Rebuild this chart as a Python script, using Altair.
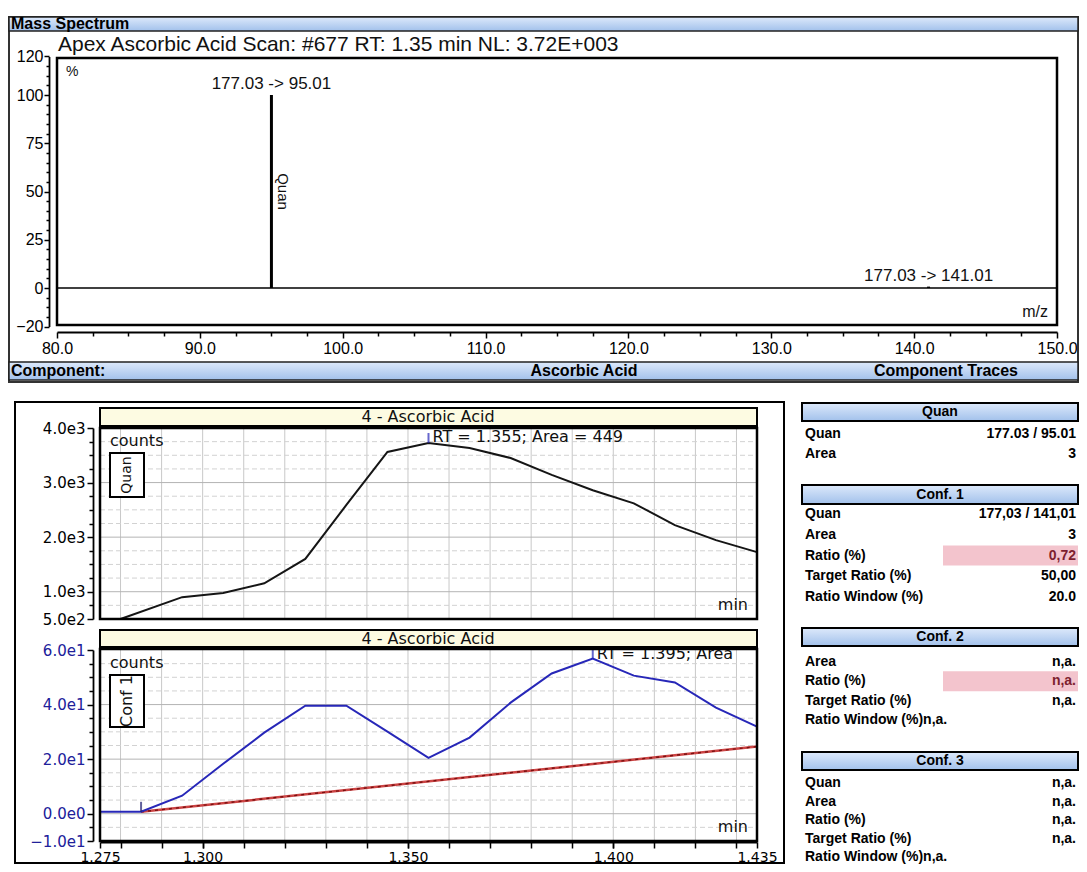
import altair as alt
import pandas as pd

# ------------------------------------------------------------------ data
# mass spectrum (m/z, relative intensity %)
ion_mz = [95.01, 141.01]
ion_intensity = [100.0, 0.72]
ion_labels = ["177.03 -> 95.01", "177.03 -> 141.01"]
ion_tags = ["Quan", ""]
spec_title = "Apex Ascorbic Acid Scan: #677  RT: 1.35 min NL: 3.72E+003"
spec_x_ticks = [80, 90, 100, 110, 120, 130, 140, 150]
spec_x_minor = [80 + 2.5 * i for i in range(29) if i % 4 != 0]
spec_y_ticks = [-20, 0, 25, 50, 75, 100, 120]
spec_y_minor = [v for v in range(-20, 121, 5) if v not in spec_y_ticks]

# component traces
quan_time = [1.280, 1.295, 1.305, 1.315, 1.325, 1.335, 1.345, 1.355,
             1.365, 1.375, 1.385, 1.395, 1.405, 1.415, 1.425, 1.435]
quan_counts = [500, 900, 975, 1155, 1600, 2590, 3560, 3725,
               3635, 3450, 3140, 2860, 2620, 2220, 1945, 1725]
conf1_time = [1.275, 1.285, 1.295, 1.305, 1.315, 1.325, 1.335, 1.345, 1.355,
              1.365, 1.375, 1.385, 1.395, 1.405, 1.415, 1.425, 1.435]
conf1_counts = [0.7, 0.7, 6.6, 18.3, 29.7, 39.6, 39.6, 30.1, 20.5,
                27.9, 40.7, 51.4, 56.9, 50.6, 48.1, 38.9, 31.9]
base_time = [1.285, 1.435]
base_counts = [0.7, 24.6]
peak_time = [1.355, 1.395]
peak_counts = [3725, 56.9]
peak_labels = ["RT = 1.355; Area = 449", "RT = 1.395; Area = 3"]
start_time = [1.285]
start_counts = [0.7]
trace_title = "4 - Ascorbic Acid"
trace_x_labels = [1.275, 1.300, 1.350, 1.400, 1.435]
trace_x_ticks = [round(1.28 + 0.01 * i, 2) for i in range(16)]
quan_y_ticks = [500, 1000, 2000, 3000, 4000]
quan_y_minor = [v for v in range(500, 4001, 250) if v not in quan_y_ticks]
quan_grid_major = [1000, 2000, 3000]
conf1_y_ticks = [-10, 0, 20, 40, 60]
conf1_y_minor = [v for v in range(-10, 61, 5) if v not in conf1_y_ticks]
conf1_grid_major = [0, 20, 40]

# result tables
table_titles = ["Quan", "Conf. 1", "Conf. 2", "Conf. 3"]
table_labels = [
    ["Quan", "Area"],
    ["Quan", "Area", "Ratio (%)", "Target Ratio (%)", "Ratio Window (%)"],
    ["Area", "Ratio (%)", "Target Ratio (%)", "Ratio Window (%)n,a."],
    ["Quan", "Area", "Ratio (%)", "Target Ratio (%)", "Ratio Window (%)n,a."],
]
table_values = [
    ["177.03 / 95.01", "3"],
    ["177,03 / 141,01", "3", "0,72", "50,00", "20.0"],
    ["n,a.", "n,a.", "n,a.", ""],
    ["n,a.", "n,a.", "n,a.", "n,a.", ""],
]
table_flag = [
    [False, False],
    [False, False, True, False, False],
    [False, True, False, False],
    [False, False, False, False, False],
]

# ------------------------------------------------------------------ helpers
W, H = 1071, 856
RIGHT = 1078
SANS = "Liberation Sans, Arial, sans-serif"
DV = "DejaVu Sans, Verdana, sans-serif"
ONE = pd.DataFrame({"k": [0]})


def P(v):
    return v - 8


def box(x1, y1, x2, y2, **kw):
    return alt.Chart(ONE).mark_rect(**kw).encode(
        x=alt.value(P(x1)), x2=alt.value(P(x2)),
        y=alt.value(P(y1)), y2=alt.value(P(y2)))


def frame(x1, y1, x2, y2, width=2, color="black"):
    return box(x1, y1, x2, y2, fill="white", fillOpacity=0,
               stroke=color, strokeWidth=width)


def label(s, x, y, **kw):
    kw.setdefault("baseline", "middle")
    return alt.Chart(ONE).mark_text(**kw).encode(
        x=alt.value(P(x)), y=alt.value(P(y)), text=alt.value(s))


def blue_grad():
    return alt.Gradient(
        gradient="linear",
        stops=[alt.GradientStop(color="#dde9fb", offset=0),
               alt.GradientStop(color="#a2c1eb", offset=1)],
        x1=0, x2=0, y1=0, y2=1)


def axis(orient, offset, values, size=6, labels=True, domain=True,
         color="black", fmt=None, expr=None, font=SANS, fsize=14, pad=2):
    kw = dict(orient=orient, offset=offset, values=values, tickSize=size,
              tickWidth=1.5, tickColor="black", domain=domain,
              domainColor="black", domainWidth=1.8, labels=labels,
              labelFont=font, labelFontSize=fsize, labelColor=color,
              labelPadding=pad, labelFlush=False, labelOverlap=False,
              grid=False, title=None)
    if fmt:
        kw["format"] = fmt
    if expr:
        kw["labelExpr"] = expr
    return alt.Axis(**kw)


def axis_layer(df, xf, yf, xs, ys, xax, yax):
    return alt.Chart(df).mark_point(opacity=0).encode(
        x=alt.X(xf, scale=xs, axis=xax), y=alt.Y(yf, scale=ys, axis=yax))


layers = []

# ------------------------------------------------------------------ backgrounds
layers += [
    frame(9, 17, RIGHT, 382, 2, "#333333"),
    box(9, 17, RIGHT, 31, fill=blue_grad(), stroke="#222222", strokeWidth=1.5),
    box(9, 362, RIGHT, 380, fill=blue_grad(), stroke="#222222", strokeWidth=1.5),
    frame(15, 402, 784, 863, 2),
]

table_layout = [(403, 421, 434, 20.0), (485, 504, 514, 20.75),
                (628, 646, 662, 19.3), (752, 770, 783, 18.6)]
for s, (ht, hb, r0, step) in enumerate(table_layout):
    layers.append(box(802, ht, RIGHT, hb, fill=blue_grad(), stroke="black",
                      strokeWidth=2))
    for r, flag in enumerate(table_flag[s]):
        if flag:
            yy = r0 + r * step
            layers.append(box(943, yy - 10, RIGHT, yy + 10, fill="#f3c4cd"))

# ------------------------------------------------------------------ spectrum
sx = alt.Scale(domain=[80, 150], range=[P(57), P(1057)], nice=False, zero=False)
sy = alt.Scale(domain=[-20, 120], range=[P(326.6), P(56.4)], nice=False, zero=False)
spec_df = pd.DataFrame({"mz": ion_mz, "intensity": ion_intensity,
                        "label": ion_labels, "tag": ion_tags})

spike = alt.Chart(spec_df).mark_rule(color="black", strokeWidth=3).encode(
    x=alt.X("mz:Q", scale=sx, axis=None),
    y=alt.Y("intensity:Q", scale=sy, axis=None),
    y2=alt.Y2Datum(0))
baseline = alt.Chart(ONE).mark_rule(color="black", strokeWidth=1.5).encode(
    x=alt.XDatum(80, scale=sx, axis=None), x2=alt.X2Datum(150),
    y=alt.YDatum(0, scale=sy, axis=None))
ion_text = alt.Chart(spec_df).mark_text(
    font=SANS, fontSize=17, dy=-11, baseline="middle", color="#111").encode(
    x=alt.X("mz:Q", scale=sx, axis=None),
    y=alt.Y("intensity:Q", scale=sy, axis=None), text="label:N")
tag_text = alt.Chart(spec_df).transform_calculate(
    mid="datum.intensity / 2").mark_text(
    font=SANS, fontSize=15, angle=90, dy=-12, baseline="middle", color="#111").encode(
    x=alt.X("mz:Q", scale=sx, axis=None),
    y=alt.Y("mid:Q", scale=sy, axis=None), text="tag:N")
layers.append(alt.layer(baseline, spike, ion_text, tag_text))
layers.append(axis_layer(
    spec_df, "mz:Q", "intensity:Q", sx, sy,
    axis("bottom", P(332) - H, spec_x_ticks, 6, fmt=".1f", fsize=16),
    axis("left", -P(49), spec_y_ticks, 5, fsize=16, pad=1)))
layers.append(axis_layer(
    spec_df, "mz:Q", "intensity:Q", sx, sy,
    axis("bottom", P(332) - H, spec_x_minor, 4, labels=False, domain=False),
    axis("left", -P(49), spec_y_minor, 3, labels=False, domain=False)))
layers.append(frame(57, 58, 1057, 325, 2.5))

# ------------------------------------------------------------------ traces
tx = alt.Scale(domain=[1.275, 1.435], range=[P(100), P(757)], nice=False, zero=False)
qy = alt.Scale(domain=[500, 4000], range=[P(619), P(428)], nice=False, zero=False)
cy = alt.Scale(domain=[-10, 60], range=[P(841), P(650)], nice=False, zero=False)
EXPR = "replace(format(datum.value, '.1e'), '+', '')"
BLUE = "#2727b8"
grid_df = pd.DataFrame({"t": trace_x_ticks})


def grids(ys, lo, hi, major, minor):
    vg = alt.Chart(grid_df).mark_rule(color="#c8c8c8", strokeWidth=1).encode(
        x=alt.X("t:Q", scale=tx, axis=None),
        y=alt.YDatum(lo, scale=ys, axis=None), y2=alt.Y2Datum(hi))
    hmaj = alt.Chart(pd.DataFrame({"c": major})).mark_rule(
        color="#b4b4b4", strokeWidth=1).encode(
        y=alt.Y("c:Q", scale=ys, axis=None),
        x=alt.XDatum(1.275, scale=tx, axis=None), x2=alt.X2Datum(1.435))
    hmin = alt.Chart(pd.DataFrame({"c": minor})).mark_rule(
        color="#d2d2d2", strokeWidth=1, strokeDash=[5, 3]).encode(
        y=alt.Y("c:Q", scale=ys, axis=None),
        x=alt.XDatum(1.275, scale=tx, axis=None), x2=alt.X2Datum(1.435))
    return [vg, hmaj, hmin]


def pk_layers(df, ys, dy, **tk):
    tick = alt.Chart(df).mark_tick(orient="vertical", size=10, thickness=2,
                                   color=BLUE, yOffset=-5).encode(
        x=alt.X("t:Q", scale=tx, axis=None), y=alt.Y("c:Q", scale=ys, axis=None))
    text = alt.Chart(df).mark_text(align="left", baseline="bottom", dx=4, dy=dy,
                                   font=DV, fontSize=16, color="#111", **tk).encode(
        x=alt.X("t:Q", scale=tx, axis=None), y=alt.Y("c:Q", scale=ys, axis=None),
        text="label:N")
    return [tick, text]


# panel 1 : Quan
quan_df = pd.DataFrame({"t": quan_time, "c": quan_counts})
pk1 = pd.DataFrame({"t": peak_time[:1], "c": peak_counts[:1], "label": peak_labels[:1]})
quan_line = alt.Chart(quan_df).mark_line(color="#151515", strokeWidth=2).encode(
    x=alt.X("t:Q", scale=tx, axis=None), y=alt.Y("c:Q", scale=qy, axis=None))
layers.append(alt.layer(*grids(qy, 500, 4000, quan_grid_major, quan_y_minor),
                        quan_line, *pk_layers(pk1, qy, 2)))
layers.append(axis_layer(
    quan_df, "t:Q", "c:Q", tx, qy, None,
    axis("left", -P(93), quan_y_ticks, 6, expr=EXPR, font=DV, fsize=15)))
layers.append(axis_layer(
    quan_df, "t:Q", "c:Q", tx, qy, None,
    axis("left", -P(93), quan_y_minor, 4, labels=False, domain=False)))

# panel 2 : Conf 1
conf_df = pd.DataFrame({"t": conf1_time, "c": conf1_counts})
base_df = pd.DataFrame({"t": base_time, "c": base_counts})
start_df = pd.DataFrame({"t": start_time, "c": start_counts})
pk2 = pd.DataFrame({"t": peak_time[1:], "c": peak_counts[1:], "label": peak_labels[1:]})
base_line = alt.Chart(base_df).mark_line(color="#cc4444", strokeWidth=2.5).encode(
    x=alt.X("t:Q", scale=tx, axis=None), y=alt.Y("c:Q", scale=cy, axis=None))
base_dash = alt.Chart(base_df).mark_line(color="#7a1010", strokeWidth=1.4,
                                         strokeDash=[3, 4]).encode(
    x=alt.X("t:Q", scale=tx, axis=None), y=alt.Y("c:Q", scale=cy, axis=None))
conf_line = alt.Chart(conf_df).mark_line(color=BLUE, strokeWidth=2).encode(
    x=alt.X("t:Q", scale=tx, axis=None), y=alt.Y("c:Q", scale=cy, axis=None))
start_tick = alt.Chart(start_df).mark_tick(orient="vertical", size=10, thickness=2,
                                           color="#1c1c70", yOffset=-5).encode(
    x=alt.X("t:Q", scale=tx, axis=None), y=alt.Y("c:Q", scale=cy, axis=None))
layers.append(alt.layer(*grids(cy, -10, 60, conf1_grid_major, conf1_y_minor),
                        base_line, base_dash, conf_line, start_tick,
                        *pk_layers(pk2, cy, 4, limit=158, ellipsis=" ")))
layers.append(axis_layer(
    conf_df, "t:Q", "c:Q", tx, cy,
    axis("bottom", P(842) - H, trace_x_labels, 6, fmt=".3f", font=DV, fsize=14, pad=2),
    axis("left", -P(93), conf1_y_ticks, 6, expr=EXPR, font=DV, fsize=15,
         color="#20209a")))
layers.append(axis_layer(
    conf_df, "t:Q", "c:Q", tx, cy,
    axis("bottom", P(842) - H, trace_x_ticks, 6, labels=False, domain=False),
    axis("left", -P(93), conf1_y_minor, 4, labels=False, domain=False)))

# panel frames, title bars, trace boxes
YEL = "#fdfbe2"
layers += [
    frame(100, 428, 757, 619, 2.5),
    frame(100, 649, 757, 841, 2.5),
    box(100, 408, 757, 426, fill=YEL, stroke="black", strokeWidth=2),
    box(100, 630, 757, 647, fill=YEL, stroke="black", strokeWidth=2),
    box(110, 453, 144, 497, fill="white", stroke="black", strokeWidth=2),
    box(110, 675, 144, 727, fill="white", stroke="black", strokeWidth=2),
]

# ------------------------------------------------------------------ texts
HB = dict(font=SANS, fontSize=16, fontWeight="bold", color="black")
layers += [
    label("Mass Spectrum", 11, 24, align="left", **HB),
    label(spec_title, 58, 45, align="left", font=SANS, fontSize=21, color="#111"),
    label("%", 66, 72, align="left", font=SANS, fontSize=14, color="#111"),
    label("m/z", 1048, 312, align="right", font=SANS, fontSize=16, color="#111"),
    label("Component:", 11, 371, align="left", **HB),
    label("Ascorbic Acid", 584, 371, align="center", **HB),
    label("Component Traces", 946, 371, align="center", **HB),
    label(trace_title, 428, 417, align="center", font=DV, fontSize=16, color="#111"),
    label(trace_title, 428, 639, align="center", font=DV, fontSize=16, color="#111"),
    label("counts", 110, 441, align="left", font=DV, fontSize=16, color="#111"),
    label("counts", 110, 663, align="left", font=DV, fontSize=16, color="#111"),
    label("min", 748, 605, align="right", font=DV, fontSize=16, color="#111"),
    label("min", 748, 827, align="right", font=DV, fontSize=16, color="#111"),
    label("Quan", 127, 475, align="center", angle=270, font=DV, fontSize=14, color="#111"),
    label("Conf 1", 127, 701, align="center", angle=270, font=DV, fontSize=16, color="#111"),
]

TB = dict(font=SANS, fontSize=14, fontWeight="bold")
for s, (ht, hb, r0, step) in enumerate(table_layout):
    layers.append(label(table_titles[s], 940, (ht + hb) / 2, align="center", **TB))
    for r, (lab, val) in enumerate(zip(table_labels[s], table_values[s])):
        yy = r0 + r * step
        layers.append(label(lab, 805, yy, align="left", color="black", **TB))
        if val:
            col = "#7d1f2f" if table_flag[s][r] else "black"
            layers.append(label(val, RIGHT - 2, yy, align="right", color=col, **TB))

# ------------------------------------------------------------------ assemble
chart = alt.layer(*layers).resolve_scale(
    x="independent", y="independent"
).properties(
    width=W, height=H, padding=0, autosize=alt.AutoSizeParams(type="none")
).configure_view(stroke=None)

chart.save("out.html", embed_options={"renderer": "svg", "actions": False})
